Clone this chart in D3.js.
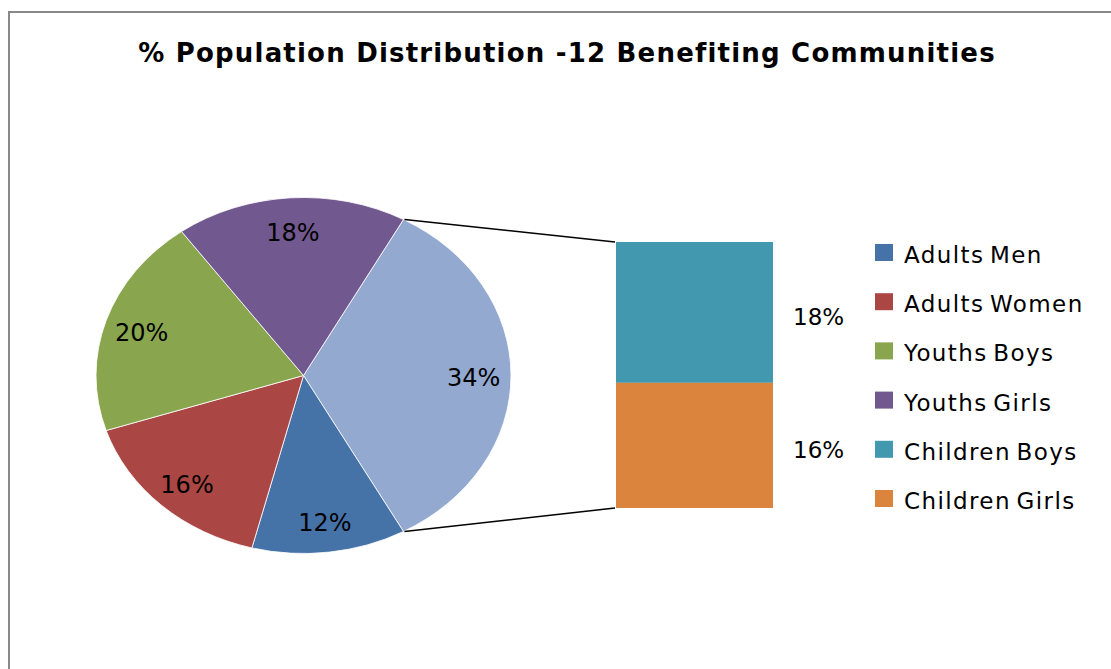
<!DOCTYPE html>
<html>
<head>
<meta charset="utf-8">
<script src="https://cdn.jsdelivr.net/npm/d3@7"></script>
<style>
  body { margin: 0; background: #fff; }
  svg { display: block; }
</style>
</head>
<body>
<div id="chart"></div>
<script>
// Data
var categories = ["Adults Men", "Adults Women", "Youths Boys", "Youths Girls", "Children Boys", "Children Girls"];
var values = [12, 16, 20, 18, 18, 16];
var colors = ["#4572A7", "#AA4643", "#89A54E", "#71588F", "#4198AF", "#DB843D"];
var otherColor = "#93A9CF";
var pieCount = 4; // first four go in the pie, the rest in the bar

var W = 1111, H = 669,
    font_family = "'DejaVu Sans', Verdana, sans-serif";

// Pie (ellipse) geometry
var cx = 303.5, cy = 375.5, rx = 207.5, ry = 178,
    labelR = 0.82;

// Bar geometry
var bar = {x: 616, y: 242, w: 157, h: 266};

var svg = d3.select("#chart").append("svg")
  .attr("width", W)
  .attr("height", H);

// Chart border (runs off the right and bottom)
svg.append("rect")
  .attr("x", 9)
  .attr("y", 12)
  .attr("width", W + 20)
  .attr("height", H + 20)
  .attr("fill", "none")
  .attr("stroke", "#888888")
  .attr("stroke-width", 2);

// Title
svg.append("text")
  .attr("x", 567)
  .attr("y", 62)
  .attr("text-anchor", "middle")
  .attr("font-family", font_family)
  .attr("font-weight", "bold")
  .attr("font-size", "26px")
  .attr("letter-spacing", "1.2px")
  .text("% Population Distribution -12 Benefiting Communities");

// Build pie data: "Other" slice = sum of bar categories, placed first, centred at 3 o'clock
var otherValue = d3.sum(values.slice(pieCount));
var total = d3.sum(values);
var pieData = [{name: "Other", value: otherValue, color: otherColor}]
  .concat(categories.slice(0, pieCount).map(function(c, i) {
    return {name: c, value: values[i], color: colors[i]};
  }));

var start = Math.PI / 2 - Math.PI * otherValue / total;
var arcs = d3.pie()
  .sort(null)
  .value(function(d) { return d.value; })
  .startAngle(start)
  .endAngle(start + 2 * Math.PI)(pieData);

var arc = d3.arc().innerRadius(0).outerRadius(ry);

var pieG = svg.append("g")
  .attr("transform", "translate(" + cx + "," + cy + ") scale(" + (rx / ry) + ",1)");

pieG.selectAll("path")
  .data(arcs)
  .enter().append("path")
    .attr("d", arc)
    .attr("fill", function(d) { return d.data.color; })
    .attr("stroke", "#ffffff")
    .attr("stroke-width", 0.8)
    .attr("vector-effect", "non-scaling-stroke");

function ellipsePoint(a, k) {
  return [cx + rx * k * Math.sin(a), cy - ry * k * Math.cos(a)];
}

// Pie labels
svg.selectAll(".pie-label")
  .data(arcs)
  .enter().append("text")
    .attr("class", "pie-label")
    .attr("x", function(d) { return ellipsePoint((d.startAngle + d.endAngle) / 2, labelR)[0]; })
    .attr("y", function(d) { return ellipsePoint((d.startAngle + d.endAngle) / 2, labelR)[1]; })
    .attr("dy", "0.45em")
    .attr("text-anchor", "middle")
    .attr("font-family", font_family)
    .attr("font-size", "24px")
    .attr("fill", "#000")
    .text(function(d) { return Math.round(d.data.value / total * 100) + "%"; });

// Bar of the "Other" slice
var barData = categories.slice(pieCount).map(function(c, i) {
  return {name: c, value: values[pieCount + i], color: colors[pieCount + i]};
});
var yBar = d3.scaleLinear().domain([0, otherValue]).range([0, bar.h]);
var acc = 0;
barData.forEach(function(d) { d.y0 = acc; acc += d.value; d.y1 = acc; });

svg.selectAll(".bar-seg")
  .data(barData)
  .enter().append("rect")
    .attr("class", "bar-seg")
    .attr("x", bar.x)
    .attr("y", function(d) { return bar.y + yBar(d.y0); })
    .attr("width", bar.w)
    .attr("height", function(d) { return yBar(d.y1) - yBar(d.y0); })
    .attr("fill", function(d) { return d.color; });

svg.selectAll(".bar-label")
  .data(barData)
  .enter().append("text")
    .attr("class", "bar-label")
    .attr("x", bar.x + bar.w + 20)
    .attr("y", function(d) { return bar.y + yBar((d.y0 + d.y1) / 2) + 4; })
    .attr("dy", "0.36em")
    .attr("font-family", font_family)
    .attr("font-size", "23px")
    .attr("fill", "#000")
    .text(function(d) { return Math.round(d.value / total * 100) + "%"; });

// Connector lines from the "Other" slice to the bar
var otherArc = arcs[0];
var pTop = ellipsePoint(otherArc.startAngle, 1),
    pBot = ellipsePoint(otherArc.endAngle, 1);
svg.append("line")
  .attr("x1", pTop[0] + 1).attr("y1", pTop[1])
  .attr("x2", bar.x - 1).attr("y2", bar.y)
  .attr("stroke", "#000").attr("stroke-width", 1.5);
svg.append("line")
  .attr("x1", pBot[0] + 1).attr("y1", pBot[1])
  .attr("x2", bar.x - 1).attr("y2", bar.y + bar.h)
  .attr("stroke", "#000").attr("stroke-width", 1.5);

// Legend
var legend = svg.append("g")
  .attr("transform", "translate(875,244)");

var item = legend.selectAll("g")
  .data(categories)
  .enter().append("g")
    .attr("transform", function(d, i) { return "translate(0," + (i * 49.2) + ")"; });

item.append("rect")
  .attr("width", 18)
  .attr("height", 17)
  .attr("fill", function(d, i) { return colors[i]; });

item.append("text")
  .attr("x", 29)
  .attr("y", 19)
  .attr("font-family", font_family)
  .attr("font-size", "23px")
  .attr("letter-spacing", "1.4px")
  .attr("word-spacing", "-3px")
  .attr("fill", "#000")
  .text(function(d) { return d; });
</script>
</body>
</html>
